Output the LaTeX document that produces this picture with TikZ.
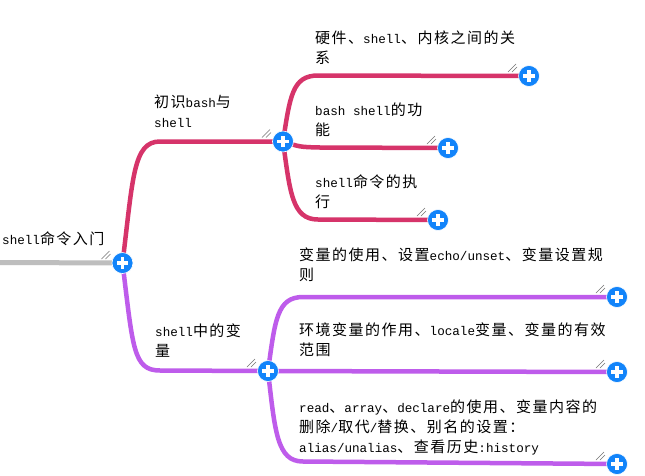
\documentclass[tikz,border=0pt]{standalone}
\usepackage{fontspec}
\setmainfont{Liberation Mono}[Scale=0.84]
\newfontfamily\zhfont{Noto Sans CJK SC}[LetterSpace=10]
\newcommand\zh[1]{{\zhfont #1}}
\usetikzlibrary{backgrounds}
\definecolor{crim}{RGB}{214,52,106}
\definecolor{purp}{RGB}{190,92,235}
\definecolor{greyline}{RGB}{190,190,190}
\definecolor{plusblue}{RGB}{18,132,250}
\begin{document}
\begin{tikzpicture}[x=1pt,y=-1pt,
  txt/.style={anchor=north west, inner sep=0pt, align=left, font=\fontsize{15}{19.7}\selectfont},
  plusnode/.style={circle, fill=plusblue, draw=white, line width=0.6pt, minimum size=21pt, inner sep=0pt,
    path picture={
      \fill[white] ([shift={(-5.8,-1.7)}]path picture bounding box.center) rectangle ++(11.6,3.4);
      \fill[white] ([shift={(-1.7,-5.8)}]path picture bounding box.center) rectangle ++(3.4,11.6);}},
  gripline/.style={draw=black!55, line width=0.5pt},
  crimline/.style={draw=crim, line width=4.5pt},
  purpline/.style={draw=purp, line width=4.5pt}]
\useasboundingbox (0,0) rectangle (645,475);
\newcommand\grip[1]{%
  \draw[gripline] ([shift={(-21,-4)}]#1.center) -- ++(8,-8);
  \draw[gripline] ([shift={(-17,-4)}]#1.center) -- ++(5,-5);}

% texts
\node[txt] (troot) at (2,232) {shell\zh{命令入门}};
\node[txt] (tb1) at (154,95) {\zh{初识}bash\zh{与}\\shell};
\node[txt] (ts1) at (315,31) {\zh{硬件、}shell\zh{、内核之间的关}\\\zh{系}};
\node[txt] (ts2) at (315,103) {bash shell\zh{的功}\\\zh{能}};
\node[txt] (ts3) at (315,175) {shell\zh{命令的执}\\\zh{行}};
\node[txt] (tb2) at (155,324) {shell\zh{中的变}\\\zh{量}};
\node[txt] (tt1) at (299,248) {\zh{变量的使用、设置}echo/unset\zh{、变量设置规}\\\zh{则}};
\node[txt] (tt2) at (299,323) {\zh{环境变量的作用、}locale\zh{变量、变量的有效}\\\zh{范围}};
\node[txt] (tt3) at (299,400) {read\zh{、}array\zh{、}declare\zh{的使用、变量内容的}\\\zh{删除}/\zh{取代}/\zh{替换、别名的设置：}\\alias/unalias\zh{、查看历史}:history};

% plus nodes
\node[plusnode] (root) at (122.5,263) {};
\node[plusnode] (b1) at (283,141.5) {};
\node[plusnode] (s1) at (529,76) {};
\node[plusnode] (s2) at (448,148) {};
\node[plusnode] (s3) at (438,220) {};
\node[plusnode] (b2) at (268,371) {};
\node[plusnode] (t1) at (617,297) {};
\node[plusnode] (t2) at (617,372) {};
\node[plusnode] (t3) at (617,464) {};
\coordinate (start) at (0,262.5);

\begin{scope}[on background layer]
\fill[white] (0,0) rectangle (645,475);
\draw[draw=greyline, line width=5pt] (start) -- (root.center);
\draw[crimline] (root.center) .. controls (133,178) and (133,141.5) .. (160,141.5) -- (b1.center);
\draw[crimline] (b1.center) .. controls (290,97) and (292,75.5) .. (318,75.5) -- (s1.center);
\draw[crimline] (b1.center) .. controls (300,147) .. (320,147.5) -- (s2.center);
\draw[crimline] (b1.center) .. controls (290,192) and (292,219.5) .. (318,219.5) -- (s3.center);
\draw[purpline] (root.center) .. controls (133,348) and (133,370.5) .. (160,370.5) -- (b2.center);
\draw[purpline] (b2.center) .. controls (275,320) and (277,297) .. (303,297) -- (t1.center);
\draw[purpline] (b2.center) -- (t2.center);
\draw[purpline] (b2.center) .. controls (275,432) and (277,461.5) .. (303,461.5) -- (t3.center);
\end{scope}

\grip{root}
\grip{b1}
\grip{s1}
\grip{s2}
\grip{s3}
\grip{b2}
\grip{t1}
\grip{t2}
\grip{t3}
\end{tikzpicture}
\end{document}
